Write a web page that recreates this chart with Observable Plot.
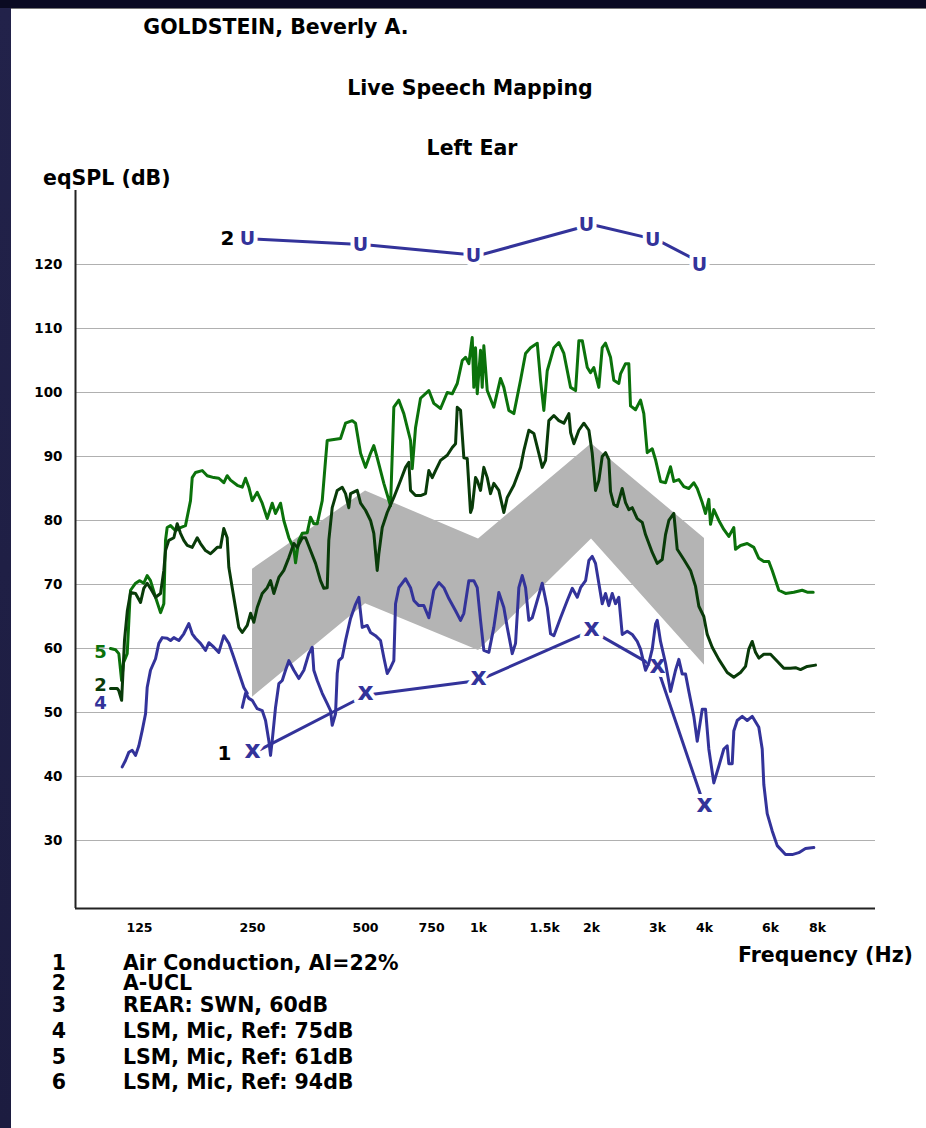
<!DOCTYPE html>
<html><head><meta charset="utf-8">
<script src="https://cdn.jsdelivr.net/npm/d3@7"></script>
<script src="https://cdn.jsdelivr.net/npm/@observablehq/plot@0.6"></script>
<style>
html,body{margin:0;padding:0;}
body{width:926px;height:1128px;position:relative;overflow:hidden;
 background:linear-gradient(180deg,#0a0a22 0px,#0a0a22 8px,#22224a 8px,#1c1c40 1128px);
 font-family:"DejaVu Sans",Verdana,sans-serif;font-weight:bold;color:#000;}
#panel{position:absolute;left:11px;top:8px;right:0;bottom:0;background:#fff;border-top:1px solid #777;}
#chart{position:absolute;left:0;top:0;}
.t{position:absolute;white-space:nowrap;line-height:0.8;}
.c{transform:translate(-50%,-50%);}
.l{transform:translate(0,-50%);}
</style></head>
<body>
<div id="panel"></div>
<div id="chart"></div>
<script>
// ---------- data ----------
const xTicks = [125, 250, 500, 750, 1000, 1500, 2000, 3000, 4000, 6000, 8000];
const xTickLabels = ["125","250","500","750","1k","1.5k","2k","3k","4k","6k","8k"];
const yTicks = [30, 40, 50, 60, 70, 80, 90, 100, 110, 120];

// Air conduction thresholds (marker "x"), label 1
const acFreq = [250, 500, 1000, 2000, 3000, 4000];
const acLevel = [43.6, 52.7, 55.0, 62.8, 56.9, 35.3];
// A-UCL (marker "U"), label 2
const uclFreq = [250, 500, 1000, 2000, 3000, 4000];
const uclLevel = [124.0, 123.1, 121.4, 126.25, 123.8, 120.0];

// REAR: SWN band
const bandFreq = [250, 500, 1000, 2000, 4000];
const bandLow = [52.4, 67.0, 59.7, 77.1, 57.4];
const bandHigh = [72.4, 84.6, 77.1, 92.0, 77.2];

// LSM curve labelled "5" (green)
const curve5 = [[104.6,60],[107.9,59.8],[110.1,59.2],[112,55],[113.3,57.8],[115.9,59.2],[117.1,64.4],[117.8,67.5],[118.3,69.1],[122,70.2],[125.2,70.6],[128.3,70.2],[131,71.4],[133.7,70.6],[137.9,68],[142.2,65.6],[145.1,67],[146.6,76.9],[148.1,78.9],[151.2,79.2],[155.9,78.4],[160.7,78.9],[165.7,79.2],[170.9,83.1],[172.7,86.7],[176.2,87.5],[183.6,87.8],[189.3,87],[197.2,86.7],[203.3,86.6],[209.6,85.9],[214,87],[218.4,86.3],[227.6,85.5],[234.7,85.2],[239.5,86.6],[244.4,85.2],[249.5,83.1],[257.3,84.4],[265.3,82.7],[273.6,80.3],[282.1,82.7],[287.9,81.1],[296.9,82.7],[302.9,80],[312.4,77.3],[322.1,75.6],[325.5,73.4],[332.1,76.9],[339.1,78],[349.7,78.1],[356.8,80.5],[364.1,79.5],[371.8,79.5],[383.4,83.1],[391.2,89.4],[395.3,92.5],[428.9,92.8],[442.3,95.2],[460.9,95.6],[470.3,95.2],[485,90.5],[500,88.3],[515.6,90.5],[526.1,91.7],[537.2,89.8],[559.4,85.8],[582.9,82.3],[594.8,97.7],[613.3,98.8],[632.4,96.7],[659,92.5],[665.9,88.1],[679.5,94.5],[700.7,99.1],[737.3,100.3],[760.2,98.3],[792.2,97.5],[825.4,100],[851.2,99.8],[877.7,101.4],[905,105],[923.5,105.5],[942.3,104.5],[962.1,108.6],[971.6,100.8],[981.8,107],[992.1,99.8],[1012.4,106.6],[1023,100.8],[1033.1,107.3],[1054.9,100.3],[1098.4,97.7],[1144.6,102.2],[1168,100.8],[1204.4,97.2],[1241.9,96.7],[1294,101.9],[1334.3,106.1],[1375.9,107],[1433.6,107.7],[1463,101.9],[1492.9,97.2],[1524.3,103.4],[1587.5,107],[1636.9,107.8],[1688,106.1],[1758.9,100.8],[1813.6,100.3],[1850.7,108.1],[1889.7,108.1],[1948.6,103.9],[1987.8,103.1],[2028.5,103.9],[2091.6,100.8],[2135.7,107],[2179.4,107.7],[2247.2,105.5],[2293.1,101.9],[2364.6,101.4],[2389.3,102.9],[2463.9,104.5],[2514.3,104.5],[2540.5,97.9],[2619.7,97.3],[2701.3,98.8],[2756.5,96.7],[2814.7,90.6],[2902.4,91.2],[2961.7,89.5],[3053.9,86.1],[3149.1,85.9],[3247.1,88.4],[3313.5,86.1],[3416.9,86.4],[3523.4,85.3],[3633.2,85],[3746.3,85.9],[3825.3,85],[3944.4,82.8],[4024.6,81.1],[4106.8,83.3],[4149.7,79.4],[4234.6,81.7],[4366.3,80],[4502.5,78.6],[4642.7,77.5],[4787.4,78.9],[4837.5,75.5],[4988.3,76.1],[5197.6,76.4],[5412.3,75.8],[5580.7,74.1],[5754.7,73.6],[5933.7,73.6],[6058.9,72.2],[6309.1,69.1],[6573.8,68.6],[6917.3,68.8],[7282.8,69.1],[7509.4,68.8],[7791,68.8]];

// LSM curve labelled "2" (dark green)
const curve2 = [[104.6,53.75],[109,53.75],[110.1,53.4],[112,51.9],[114,61.3],[116,65.9],[118.3,68.75],[122,68.6],[125.8,67.2],[128.3,69.4],[131,70.2],[133.7,69.4],[137.9,68],[142.2,68.6],[145.1,72.2],[146.6,75.3],[149.6,76.9],[154.3,77.3],[157.5,79.5],[160.7,78],[164,76.9],[167.5,76.1],[172.7,75.8],[178.1,77.3],[181.7,76.4],[187.4,75.3],[193.2,74.8],[197.2,75.3],[201.3,75.8],[205.4,75.8],[209.6,78.75],[214,77.3],[216.2,72.7],[220.7,69.5],[225.2,66.4],[229.8,63.3],[234.7,62.5],[242,63.6],[247,65.5],[252,64.1],[257.3,66.4],[265.3,68.6],[273.6,69.5],[279.2,70.6],[284.9,68.6],[293.8,71.1],[302.9,72.2],[312.4,74.2],[322.1,76.4],[328.9,75.8],[339.1,77.3],[346.1,77.3],[356.8,75.3],[368,73.3],[379.4,70.6],[387.2,69.4],[395.3,69.5],[399.2,76.9],[407.6,82],[420.3,84.7],[433.4,85.2],[442.3,84.2],[451.3,82],[456.1,84.2],[475.2,84.7],[485,82.7],[500,81.6],[515.6,80],[526.1,78],[537.2,72.2],[542.5,74.8],[554,78.9],[571.2,81.25],[594.8,83.6],[619.8,86.25],[639.1,88.3],[652.2,89.1],[659,84.7],[679.5,83.9],[700.7,83.9],[722.5,84.2],[737.3,87.8],[752.9,86.7],[768.2,87.8],[792.2,89.4],[825.4,90.2],[851.2,91.4],[868.6,92],[877.7,97.7],[895.6,97.2],[913.9,89.8],[933,89.7],[952.2,81.25],[962.1,82],[981.8,86.7],[992.1,86.25],[1012.4,84.7],[1033.1,88.3],[1054.9,86.7],[1076.4,84.2],[1098.4,85.8],[1132.6,84.7],[1168,81.25],[1192.7,83.6],[1241.9,85.5],[1294,88.3],[1320.5,90.9],[1361.6,94.1],[1404,93.6],[1447.7,90.5],[1478.3,88.3],[1508.5,89.4],[1539.3,95.6],[1587.5,96.4],[1636.9,95.6],[1688,95.2],[1740.6,96.7],[1758.9,93.75],[1794.8,92],[1850.7,94.1],[1908.4,95.2],[1967.8,94.1],[2008.6,90.5],[2049.7,84.7],[2091.6,86.25],[2135.7,90],[2179.4,90.6],[2223.9,89.5],[2247.2,84.5],[2293.1,82.5],[2341.5,82.2],[2414.5,85],[2463.9,82.8],[2514.3,81.7],[2567.2,82],[2647.1,80.3],[2729.7,79.7],[2785.5,77.8],[2902.4,75],[2992.7,73.3],[3086,73.9],[3149.1,77.8],[3213.5,80],[3313.5,81.1],[3383.4,75.5],[3523.4,73.9],[3671.1,72.2],[3785.6,69.7],[3863.1,66.6],[3982.9,65],[4066.8,62.2],[4193.1,60.2],[4366.3,58.3],[4597.5,56.25],[4787.4,55.5],[4988.3,56.25],[5143.5,57.2],[5248.7,59.9],[5359.3,61.1],[5468.9,59.4],[5580.7,58.5],[5754.7,59.1],[5996.2,59.1],[6247.7,58],[6505.8,56.9],[6778.7,56.9],[6989.6,57],[7207.5,56.7],[7509.4,57.2],[7902,57.4]];

// LSM curve labelled "4" (blue)
const curve4 = [[112.4,41.5],[114.7,42.5],[117.1,43.8],[119.5,44.1],[122,43.3],[124.5,44.8],[127.1,47.2],[129.7,49.8],[131,53.9],[133.7,56.6],[137.9,58.4],[140.7,60.8],[143.7,61.7],[148.1,61.6],[151.2,61.25],[154.3,61.7],[159.1,61.25],[164,62.3],[169.1,63.9],[172.7,62.3],[176.2,61.6],[181.7,60.8],[187.4,59.7],[191.2,60.9],[197.2,60.2],[203.3,59.4],[209.6,62],[216.2,60.8],[222.9,58.6],[229.8,56.25],[237,53.9],[242,53],[238,null],[234.7,50.8],[239.5,53],[244.4,52.2],[249.5,51.9],[257.3,50.6],[265.3,50.3],[270.8,48.75],[276.3,45.6],[279.2,43.3],[282.1,45.6],[287.9,50.8],[293.8,54.5],[300,55],[306.1,56.6],[312.4,58.1],[322.1,56.6],[332.1,55.3],[342.5,56.6],[353.1,59.2],[360.6,60.2],[364.1,56.6],[371.8,55],[383.4,53],[395.3,51.4],[403.4,50.3],[407.6,48],[416,49.8],[420.3,56.1],[424.5,58.1],[433.4,58.6],[442.3,61.25],[456.1,64.7],[470.3,66.9],[479.9,68],[490,63.3],[505.2,63.6],[515.6,62.5],[531.6,62],[548.2,61.25],[559.4,58.6],[571.2,56.1],[582.9,57],[594.8,58.1],[601.1,67],[613.3,69.5],[639.1,70.9],[659,69.5],[672.5,67.5],[693.4,66.7],[715,66.7],[737.3,64.8],[760.2,69.1],[783.9,70.3],[808.4,69.5],[833.6,67.8],[868.6,65.9],[895.6,64.4],[913.9,65.5],[942.3,70.6],[971.6,70.6],[992.1,69.5],[1012.4,64.4],[1033.1,59.7],[1065.3,59.4],[1098.4,63.3],[1132.6,68.75],[1168,66.4],[1192.7,63.3],[1229.8,59.2],[1254.9,60.8],[1280.6,69.5],[1307.6,71.4],[1334.3,69.5],[1361.6,64.4],[1390.3,64.8],[1433.6,67.5],[1478.3,70.2],[1524.3,66.4],[1555.5,62.3],[1587.5,62],[1654.1,64.8],[1723.6,67.5],[1777.3,69.4],[1832.7,68],[1870.1,69.5],[1928.4,70.6],[1967.8,73.75],[2008.6,74.4],[2049.7,73.3],[2091.6,70.2],[2135.7,67],[2179.4,68.6],[2223.9,66.7],[2270.8,68.6],[2317.2,67],[2364.6,68],[2414.5,62.2],[2489.7,62.7],[2567.2,62.2],[2647.1,61.1],[2701.3,59.9],[2756.5,57.7],[2785.5,56.6],[2842.5,57.7],[2902.4,59.9],[2961.7,63.8],[2992.7,64.4],[3053.9,61.1],[3149.1,57.7],[3247.1,53.3],[3348.4,56.6],[3416.9,58.3],[3489,56],[3560.4,56],[3633.2,53.3],[3746.3,49.4],[3825.3,45.5],[3944.4,50.5],[4024.6,50.5],[4106.8,44.3],[4234.6,39],[4366.3,41.6],[4502.5,44.3],[4597.5,44.8],[4642.7,42],[4740.5,42],[4787.4,47.1],[4888.3,48.75],[5040.5,49.4],[5197.6,48.75],[5359.3,49.4],[5580.7,47.7],[5698.3,44.3],[5754.7,38.75],[5876,34.2],[6058.9,31.5],[6247.7,29.2],[6573.8,27.8],[6849.6,27.8],[7132.5,28.1],[7431.7,28.75],[7820,28.9]];

// curve labels placed at the left end of the curves
const curveLabels = ["5", "2", "4"];
const curveLabelFreq = [98.4, 98.4, 98.4];
const curveLabelLevel = [59.4, 54.3, 51.4];

const legendNumbers = ["1", "2", "3", "4", "5", "6"];
const legendLabels = ["Air Conduction, AI=22%", "A-UCL", "REAR: SWN, 60dB", "LSM, Mic, Ref: 75dB", "LSM, Mic, Ref: 61dB", "LSM, Mic, Ref: 94dB"];

// ---------- build ----------
const BLUE = "#33339a", GREEN = "#0b720b", DARK = "#093b09";
const FONT = "'DejaVu Sans', Verdana, sans-serif";
const toRows = arr => arr.map(([f, v]) => ({f, v}));
const ac = acFreq.map((f, i) => ({f, v: acLevel[i]}));
const ucl = uclFreq.map((f, i) => ({f, v: uclLevel[i]}));
const band = bandFreq.map((f, i) => ({f, lo: bandLow[i], hi: bandHigh[i]}));
const labels = curveLabels.map((t, i) => ({t, f: curveLabelFreq[i], v: curveLabelLevel[i], c: [GREEN, DARK, BLUE][i]}));
const xTickRows = xTicks.map((f, i) => ({f, t: xTickLabels[i]}));

const xDomain = [84.4, 11417];
const yDomain = [19.375, 131.56];

const chart = Plot.plot({
  width: 926, height: 945,
  marginLeft: 75, marginRight: 51, marginTop: 190, marginBottom: 37,
  style: {background: "transparent", fontFamily: FONT, fontWeight: "bold", color: "#000"},
  x: {type: "log", domain: xDomain, axis: null},
  y: {type: "linear", domain: yDomain, axis: null},
  marks: [
    Plot.gridY(yTicks, {stroke: "#b0b0b0", strokeOpacity: 1, strokeWidth: 1.2}),
    // tick labels
    Plot.text(yTicks, {y: d => d, text: d => String(d), frameAnchor: "left", textAnchor: "end", dx: -13, fontSize: 13.5, fontWeight: "bold", fill: "#000"}),
    Plot.text(xTickRows, {x: "f", text: "t", frameAnchor: "bottom", dy: 23, fontSize: 12.5, fontWeight: "bold", fill: "#000"}),
    Plot.areaY(band, {x: "f", y1: "lo", y2: "hi", fill: "#b4b4b4", fillOpacity: 1}),
    Plot.ruleX([xDomain[0]], {stroke: "#222", strokeWidth: 2}),
    Plot.ruleY([yDomain[0]], {stroke: "#222", strokeWidth: 2}),
    // connector lines
    Plot.line(ac, {x: "f", y: "v", stroke: BLUE, strokeWidth: 3}),
    Plot.line(ucl, {x: "f", y: "v", stroke: BLUE, strokeWidth: 3}),
    // markers with white halo producing gaps
    Plot.text(ac, {x: "f", y: "v", text: () => "x", fontSize: 25, fontWeight: "bold", fill: BLUE, stroke: "white", strokeWidth: 8, dy: -3}),
    Plot.text(ucl, {x: "f", y: "v", text: () => "U", fontSize: 19, fontWeight: "bold", fill: BLUE, stroke: "white", strokeWidth: 8, dx: -5}),
    Plot.text(ac.slice(0, 1), {x: "f", y: "v", text: () => "1", fontSize: 20, fontWeight: "bold", fill: "#000", dx: -28}),
    Plot.text(ucl.slice(0, 1), {x: "f", y: "v", text: () => "2", fontSize: 20, fontWeight: "bold", fill: "#000", dx: -25}),
    // LSM curves
    Plot.line(toRows(curve5), {x: "f", y: "v", stroke: GREEN, strokeWidth: 3, curve: "linear"}),
    Plot.line(toRows(curve2), {x: "f", y: "v", stroke: DARK, strokeWidth: 3, curve: "linear"}),
    Plot.line(toRows(curve4), {x: "f", y: "v", stroke: BLUE, strokeWidth: 3, curve: "linear"}),
    Plot.text(labels, {x: "f", y: "v", text: "t", fill: "c", fontSize: 18, fontWeight: "bold"})
  ]
});
document.getElementById("chart").appendChild(chart);

// ---------- titles and legend (HTML text) ----------
function addText(txt, x, y, size, cls) {
  const d = document.createElement("div");
  d.className = "t " + cls;
  d.style.left = x + "px"; d.style.top = y + "px"; d.style.fontSize = size + "px";
  d.textContent = txt;
  document.body.appendChild(d);
}
addText("GOLDSTEIN, Beverly A.", 276, 27, 20.5, "c");
addText("Live Speech Mapping", 470, 88, 20.5, "c");
addText("Left Ear", 472, 148, 20.5, "c");
addText("eqSPL (dB)", 43, 178, 20.5, "l");
addText("Frequency (Hz)", 738, 955, 20.5, "l");
const legendRowsY = [962.5, 983, 1005, 1031, 1057, 1082];
legendNumbers.forEach((n, i) => {
  addText(n, 59, legendRowsY[i], 20.5, "c");
  addText(legendLabels[i], 123, legendRowsY[i], 20.5, "l");
});
</script>
</body></html>
